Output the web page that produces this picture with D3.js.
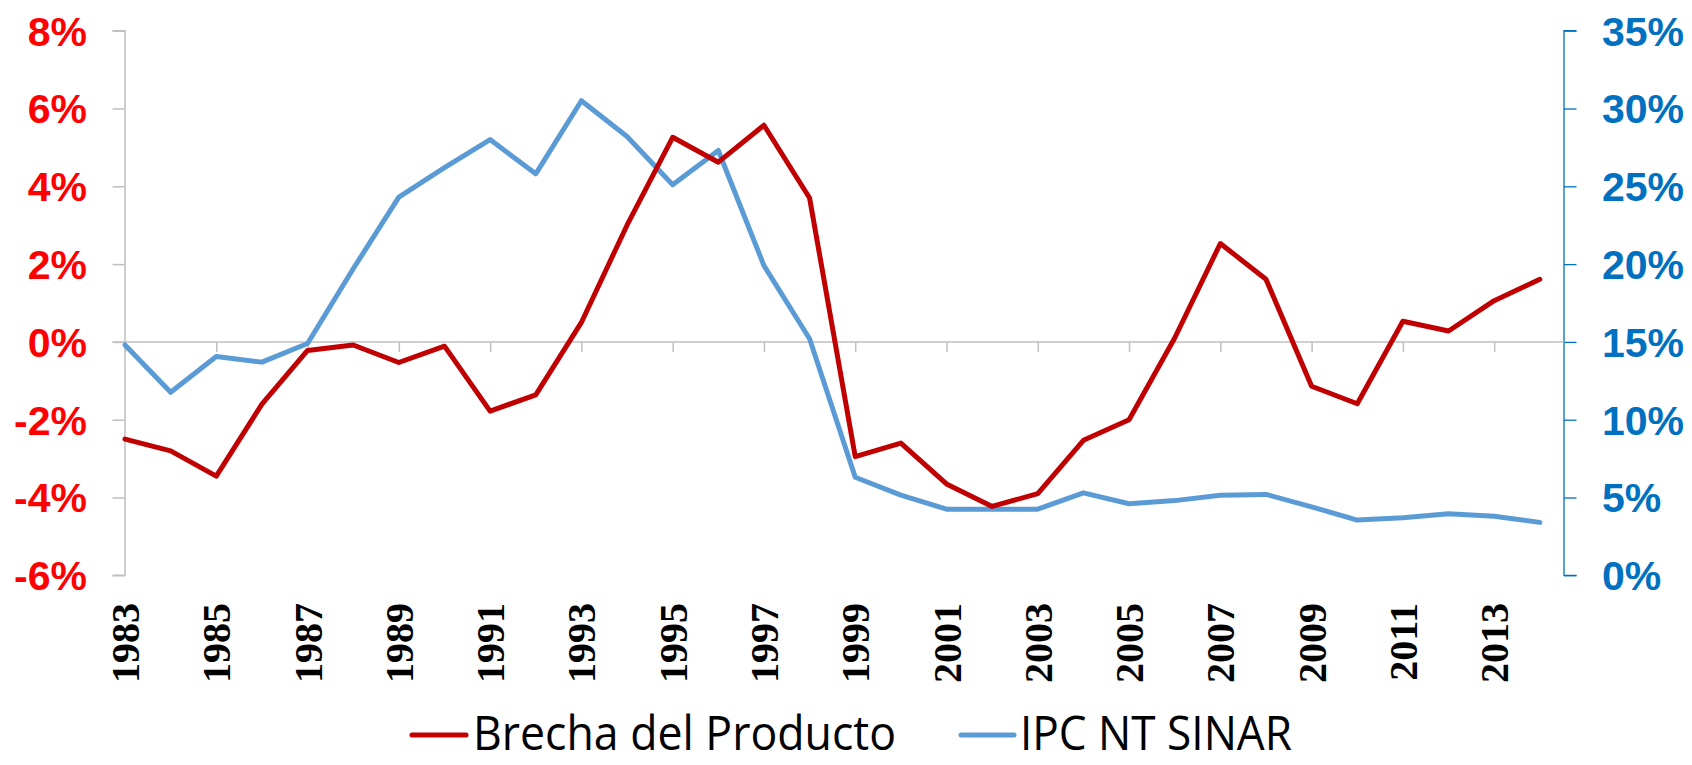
<!DOCTYPE html>
<html>
<head>
<meta charset="utf-8">
<script src="https://cdn.jsdelivr.net/npm/d3@7"></script>
<style>
  html, body { margin: 0; padding: 0; background: #fff; }
  svg { display: block; }
</style>
</head>
<body>
<svg id="chart" width="1692" height="765"></svg>
<script>
const years = d3.range(1983, 2015);
const brecha = [-2.5, -2.8, -3.45, -1.6, -0.22, -0.08, -0.53, -0.11, -1.78, -1.36,
                0.5, 3.0, 5.26, 4.62, 5.57, 3.7, -2.95, -2.6, -3.65, -4.23,
                -3.9, -2.53, -2.0, 0.1, 2.53, 1.61, -1.14, -1.59, 0.53, 0.28,
                1.06, 1.61];
const ipc = [14.8, 11.76, 14.06, 13.7, 14.9, 19.7, 24.3, 26.2, 28.0, 25.8,
             30.5, 28.2, 25.1, 27.3, 19.9, 15.2, 6.3, 5.15, 4.25, 4.25,
             4.25, 5.3, 4.6, 4.8, 5.15, 5.2, 4.4, 3.55, 3.7, 3.95,
             3.8, 3.4];
const leftTicks = [-6, -4, -2, 0, 2, 4, 6, 8];
const rightTicks = [0, 5, 10, 15, 20, 25, 30, 35];
const xLabelYears = d3.range(1983, 2014, 2);
const seriesNames = ["Brecha del Producto", "IPC NT SINAR"];

const svg = d3.select("#chart");
const L = 125, R = 1564, T = 30.7, B = 575.3;

const x = d3.scaleLinear().domain([1983, 2014.53]).range([L, R]);
const yL = d3.scaleLinear().domain([-6, 8]).range([B, T]);
const yR = d3.scaleLinear().domain([0, 35]).range([B, T]);

const red = "#C00000", blue = "#5B9BD5";

// Left axis
const leftAxis = d3.axisLeft(yL).tickValues(leftTicks).tickSize(12.5).tickFormat(d => d + "%");
const gL = svg.append("g").attr("transform", `translate(${L},0)`).call(leftAxis);
gL.select(".domain").attr("stroke", "#BFBFBF").attr("stroke-width", 1.5)
  .attr("d", `M-12.5,${T}H0V${B}H-12.5`);
gL.selectAll(".tick line").attr("stroke", "#BFBFBF").attr("stroke-width", 1.5);
gL.selectAll(".tick text")
  .attr("x", -38).attr("dy", "0.35em")
  .attr("fill", "#FF0000")
  .style("font-family", "'Liberation Sans', Arial, sans-serif")
  .style("font-weight", "bold").style("font-size", "41px");

// Right axis
const rightAxis = d3.axisRight(yR).tickValues(rightTicks).tickSize(12.5).tickFormat(d => d + "%");
const gR = svg.append("g").attr("transform", `translate(${R},0)`).call(rightAxis);
gR.select(".domain").attr("stroke", "#0070C0").attr("stroke-width", 1.3)
  .attr("d", `M12.5,${T}H0V${B}H12.5`);
gR.selectAll(".tick line").attr("stroke", "#0070C0").attr("stroke-width", 1.3);
gR.selectAll(".tick text")
  .attr("x", 38).attr("dy", "0.35em")
  .attr("fill", "#0070C0")
  .style("font-family", "'Liberation Sans', Arial, sans-serif")
  .style("font-weight", "bold").style("font-size", "41px");

// Zero (category) axis line with ticks
const xAxis = d3.axisBottom(x).tickValues(xLabelYears).tickSize(10).tickFormat("");
const gX = svg.append("g").attr("transform", `translate(0,${yL(0)})`).call(xAxis);
gX.select(".domain").attr("stroke", "#BFBFBF").attr("stroke-width", 1.5)
  .attr("d", `M${L - 12.5},0H${R}`);
gX.selectAll(".tick line").attr("stroke", "#BFBFBF").attr("stroke-width", 1.5);

// Year labels at bottom
svg.append("g").selectAll("text").data(xLabelYears).join("text")
  .attr("transform", d => `translate(${x(d)},603) rotate(-90)`)
  .attr("text-anchor", "end")
  .attr("dy", "0.35em")
  .style("font-family", "'Liberation Serif', 'Times New Roman', serif")
  .style("font-weight", "bold").style("font-size", "40px")
  .attr("fill", "#000")
  .text(d => d);

// Lines
const lineL = d3.line().x((d, i) => x(years[i])).y(d => yL(d));
const lineR = d3.line().x((d, i) => x(years[i])).y(d => yR(d));

svg.append("path").datum(ipc).attr("d", lineR)
  .attr("fill", "none").attr("stroke", blue).attr("stroke-width", 5)
  .attr("stroke-linejoin", "round").attr("stroke-linecap", "round");
svg.append("path").datum(brecha).attr("d", lineL)
  .attr("fill", "none").attr("stroke", red).attr("stroke-width", 5)
  .attr("stroke-linejoin", "round").attr("stroke-linecap", "round");

// Legend
const legend = [
  { name: seriesNames[0], color: red, x1: 412, x2: 466, tx: 473, tw: 423 },
  { name: seriesNames[1], color: blue, x1: 961, x2: 1014, tx: 1020, tw: 272 }
];
const lg = svg.append("g");
legend.forEach(it => {
  lg.append("line").attr("x1", it.x1).attr("x2", it.x2).attr("y1", 735).attr("y2", 735)
    .attr("stroke", it.color).attr("stroke-width", 5).attr("stroke-linecap", "round");
  lg.append("text").attr("x", it.tx).attr("y", 750)
    .attr("textLength", it.tw).attr("lengthAdjust", "spacingAndGlyphs")
    .style("font-family", "'Open Sans', 'Noto Sans', sans-serif")
    .style("font-size", "47px").attr("fill", "#000")
    .text(it.name);
});
</script>
</body>
</html>
